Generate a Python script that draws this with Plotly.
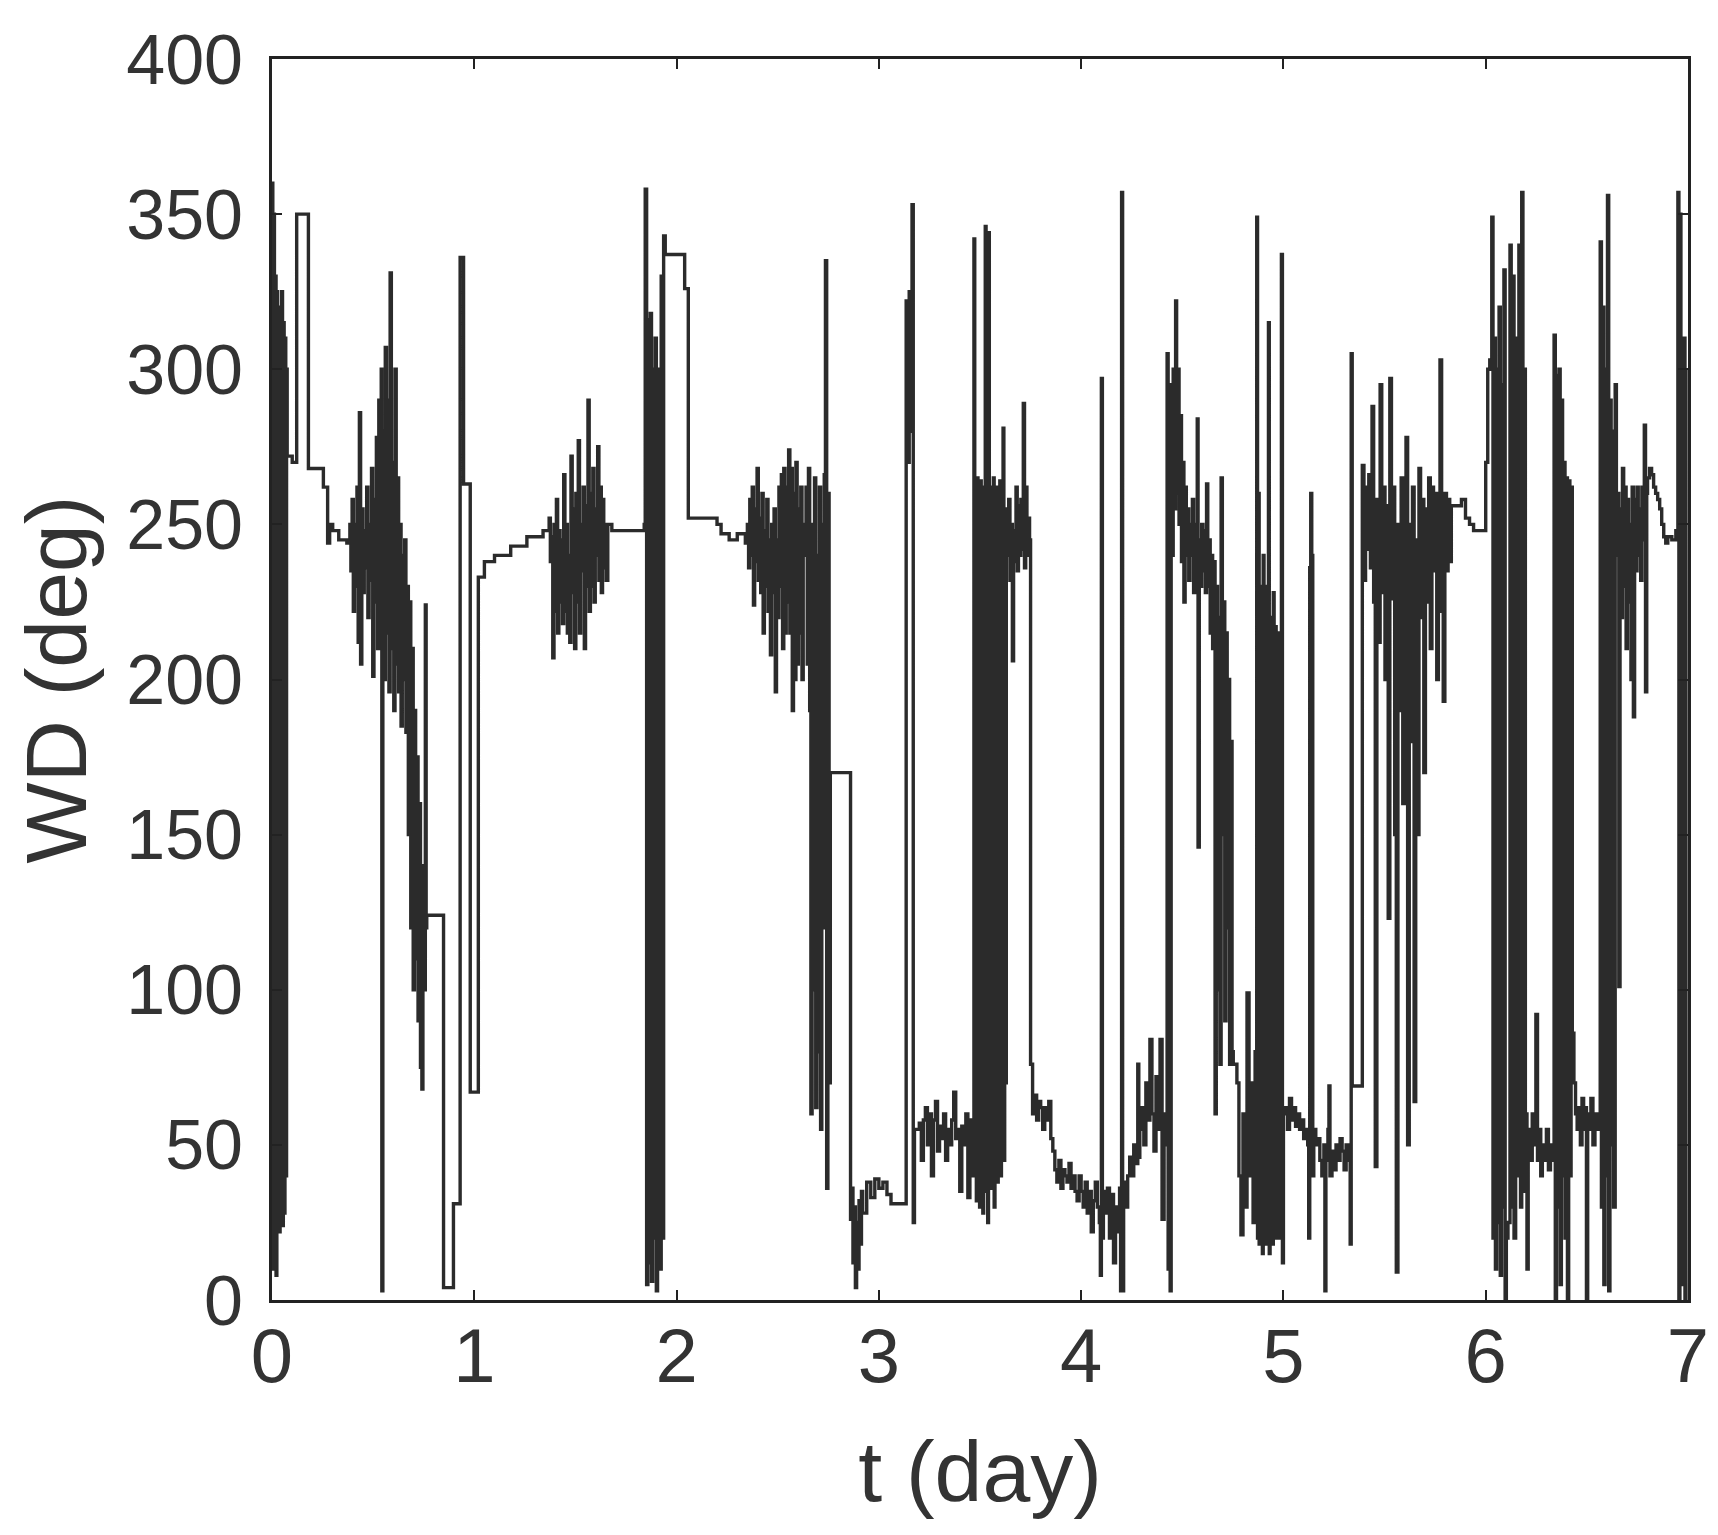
import plotly.graph_objects as go

# time (day) and wind direction (deg)
t_day = [
    0.000, 0.004, 0.008, 0.012, 0.016, 0.020, 0.024, 0.028, 0.032, 0.036, 0.040, 0.044, 0.048, 0.052,
    0.056, 0.060, 0.064, 0.068, 0.072, 0.075, 0.100, 0.122, 0.180, 0.254, 0.275, 0.285, 0.300, 0.330,
    0.370, 0.385,
    0.390, 0.396, 0.402, 0.408, 0.414, 0.420, 0.426, 0.432, 0.438, 0.444, 0.450, 0.456, 0.462, 0.468,
    0.474, 0.480, 0.486, 0.492, 0.498, 0.504, 0.510, 0.516, 0.522, 0.528, 0.534, 0.540, 0.543, 0.548,
    0.554, 0.560, 0.566, 0.572, 0.578, 0.584, 0.590, 0.596, 0.602, 0.608, 0.614, 0.620, 0.626, 0.632,
    0.638, 0.644, 0.650, 0.656, 0.662, 0.668, 0.674, 0.680, 0.686, 0.692, 0.698, 0.704, 0.710, 0.716,
    0.722, 0.728, 0.734, 0.741, 0.746, 0.752, 0.758, 0.762, 0.765, 0.848, 0.897, 0.930, 0.947, 0.980,
    1.020, 1.050, 1.100, 1.180, 1.260, 1.340,
    1.370, 1.376, 1.382, 1.388, 1.394, 1.400, 1.406, 1.412, 1.418, 1.424, 1.430, 1.436, 1.442, 1.448,
    1.454, 1.460, 1.466, 1.472, 1.478, 1.484, 1.490, 1.496, 1.502, 1.508, 1.514, 1.520, 1.526, 1.532,
    1.538, 1.544, 1.550, 1.556, 1.562, 1.568, 1.574, 1.580, 1.586, 1.592, 1.598, 1.604, 1.610, 1.616,
    1.622, 1.628, 1.634, 1.640, 1.646, 1.652, 1.660, 1.680, 1.750,
    1.840, 1.845, 1.852, 1.858, 1.864, 1.870, 1.876, 1.882, 1.888, 1.894, 1.900, 1.906, 1.912, 1.918,
    1.924, 1.930, 1.936, 1.944, 2.040, 2.058, 2.200, 2.220, 2.260, 2.300, 2.340,
    2.350, 2.356, 2.362, 2.368, 2.374, 2.380, 2.386, 2.392, 2.398, 2.404, 2.410, 2.416, 2.422, 2.428,
    2.434, 2.440, 2.446, 2.452, 2.458, 2.464, 2.470, 2.476, 2.482, 2.488, 2.494, 2.500, 2.506, 2.512,
    2.518, 2.524, 2.530, 2.536, 2.542, 2.548, 2.554, 2.560, 2.566, 2.572, 2.578, 2.584, 2.590, 2.596,
    2.602, 2.608, 2.614, 2.620, 2.626, 2.632, 2.640, 2.646, 2.652, 2.658, 2.664, 2.670, 2.676, 2.682,
    2.688, 2.694, 2.700, 2.706, 2.712, 2.718, 2.724, 2.730, 2.736, 2.742, 2.748, 2.754, 2.760, 2.857,
    2.860, 2.866, 2.872, 2.878, 2.884, 2.890, 2.896, 2.902, 2.908, 2.914, 2.920, 2.940, 2.960, 2.980,
    3.000, 3.020, 3.040, 3.060, 3.100, 3.135, 3.142, 3.150, 3.156, 3.164, 3.170, 3.176,
    3.180, 3.200, 3.210, 3.220, 3.230, 3.240, 3.250, 3.260, 3.270, 3.280, 3.290, 3.300, 3.310, 3.320,
    3.330, 3.340, 3.350, 3.360, 3.370, 3.380, 3.390, 3.400, 3.410, 3.420, 3.430, 3.440, 3.450, 3.460,
    3.465,
    3.470, 3.474, 3.478, 3.482, 3.486, 3.490, 3.494, 3.498, 3.502, 3.506, 3.510, 3.514, 3.518, 3.522,
    3.526, 3.530, 3.534, 3.538, 3.542, 3.546, 3.550, 3.554, 3.558, 3.562, 3.566, 3.570, 3.574, 3.578,
    3.582, 3.586, 3.590, 3.594, 3.598, 3.602, 3.606, 3.610, 3.614, 3.618, 3.622, 3.626, 3.630,
    3.636, 3.642, 3.648, 3.654, 3.660, 3.666, 3.672, 3.678, 3.684, 3.690, 3.696, 3.702, 3.708, 3.714,
    3.720, 3.726, 3.732, 3.738, 3.745, 3.750,
    3.755, 3.760, 3.770, 3.780, 3.790, 3.800, 3.810, 3.820, 3.830, 3.840, 3.850, 3.860, 3.870, 3.880,
    3.890, 3.900, 3.910, 3.920, 3.930, 3.940, 3.950, 3.960, 3.970, 3.980, 3.990, 4.000, 4.010, 4.020,
    4.030, 4.040, 4.050, 4.060, 4.070, 4.080, 4.090, 4.095, 4.100, 4.105, 4.110, 4.120, 4.130, 4.140,
    4.150, 4.160, 4.170, 4.180, 4.190, 4.195, 4.200, 4.205, 4.210, 4.220, 4.230, 4.240, 4.250, 4.260,
    4.270, 4.280, 4.285, 4.290, 4.300, 4.310, 4.320, 4.330, 4.340, 4.350, 4.360, 4.370, 4.380, 4.390,
    4.400, 4.410, 4.420,
    4.425, 4.430, 4.435, 4.440, 4.445, 4.450, 4.455, 4.460, 4.467, 4.472, 4.478, 4.484, 4.490, 4.496,
    4.502, 4.508, 4.514, 4.520, 4.526, 4.532, 4.538, 4.544, 4.550, 4.556, 4.562, 4.568, 4.574, 4.578,
    4.584, 4.590, 4.596, 4.602, 4.608, 4.614, 4.620, 4.626, 4.632, 4.638, 4.644, 4.650, 4.656, 4.662,
    4.668, 4.674, 4.680, 4.686, 4.692, 4.698, 4.704, 4.710, 4.716, 4.722, 4.728, 4.734, 4.740, 4.746,
    4.752, 4.760, 4.770, 4.780, 4.790, 4.800, 4.810, 4.820, 4.830, 4.840, 4.850, 4.860,
    4.868, 4.872, 4.876, 4.880, 4.884, 4.888, 4.892, 4.896, 4.900, 4.904, 4.908, 4.912, 4.916, 4.920,
    4.926, 4.930, 4.934, 4.938, 4.942, 4.946, 4.950, 4.954, 4.960, 4.964, 4.970, 4.975, 4.980, 4.985,
    4.990, 4.995,
    5.000, 5.010, 5.020, 5.030, 5.040, 5.050, 5.060, 5.070, 5.080, 5.090, 5.100, 5.110, 5.120, 5.125,
    5.130, 5.135, 5.140, 5.145, 5.150, 5.160, 5.170, 5.180, 5.190, 5.200, 5.205, 5.210, 5.220, 5.225,
    5.230, 5.240, 5.250, 5.260, 5.270, 5.280, 5.290, 5.300, 5.310, 5.320, 5.330, 5.335, 5.340,
    5.390, 5.398, 5.406, 5.414, 5.422, 5.430, 5.438, 5.446, 5.454, 5.462, 5.470, 5.478, 5.486, 5.494,
    5.502, 5.510, 5.518, 5.526, 5.534, 5.542, 5.550, 5.558, 5.566, 5.574, 5.582, 5.590, 5.598, 5.606,
    5.614, 5.622, 5.630, 5.638, 5.646, 5.654, 5.662, 5.670, 5.678, 5.686, 5.694, 5.702, 5.710, 5.718,
    5.726, 5.734, 5.742, 5.750, 5.758, 5.766, 5.774, 5.782, 5.790, 5.798, 5.806, 5.814, 5.822, 5.830,
    5.860, 5.880, 5.900, 5.920, 5.940, 5.980,
    6.000, 6.010, 6.020, 6.030, 6.036, 6.042, 6.048, 6.054, 6.060, 6.066, 6.072, 6.078, 6.084, 6.090,
    6.096, 6.102, 6.110, 6.120, 6.126, 6.132, 6.140, 6.148, 6.156, 6.164, 6.172, 6.178, 6.184, 6.190,
    6.196, 6.204, 6.210, 6.220, 6.230, 6.240, 6.248, 6.256, 6.264, 6.272, 6.280, 6.290, 6.300, 6.310,
    6.320, 6.330,
    6.338, 6.344, 6.350, 6.356, 6.362, 6.368, 6.374, 6.380, 6.386, 6.392, 6.398, 6.404, 6.410, 6.416,
    6.422, 6.428, 6.436, 6.444, 6.452, 6.460, 6.468, 6.476, 6.484, 6.492, 6.498, 6.504, 6.512, 6.520,
    6.530, 6.540, 6.550,
    6.566, 6.572, 6.578, 6.584, 6.590, 6.596, 6.602, 6.608, 6.614, 6.620, 6.626, 6.632,
    6.640, 6.646, 6.652, 6.658, 6.664, 6.670, 6.676, 6.682, 6.688, 6.694, 6.700, 6.706, 6.712, 6.718,
    6.724, 6.730, 6.736, 6.742, 6.748, 6.754, 6.760, 6.766, 6.772, 6.778, 6.784, 6.790, 6.796, 6.800,
    6.810, 6.820, 6.830, 6.840, 6.850, 6.860, 6.870, 6.880, 6.890, 6.900, 6.920, 6.940,
    6.950, 6.955, 6.960, 6.965, 6.970, 6.975, 6.980, 6.985, 6.990,
]

wd_deg = [
    360, 10, 350, 20, 330, 8, 325, 25, 320, 22, 318, 30, 325, 24,
    315, 28, 310, 40, 300, 272, 270, 350, 268, 262, 244, 250, 248, 245,
    244, 250,
    235, 258, 222, 250, 230, 262, 212, 286, 205, 255, 228, 248, 236, 262,
    220, 250, 232, 268, 201, 258, 225, 278, 210, 290, 230, 300, 3, 280,
    200, 307, 215, 290, 196, 331, 210, 270, 190, 300, 205, 265, 196, 250,
    185, 240, 200, 245, 183, 230, 150, 225, 120, 210, 100, 190, 110, 175,
    90, 160, 75, 68, 140, 100, 224, 120, 124, 4, 31, 336, 263, 67,
    233, 238, 240, 243, 246, 248,
    252, 238, 246, 207, 250, 222, 258, 215, 248, 225, 245, 218, 266, 222,
    250, 215, 240, 212, 272, 228, 255, 210, 260, 225, 277, 215, 250, 235,
    262, 210, 256, 230, 290, 222, 260, 230, 268, 225, 255, 240, 275, 232,
    262, 228, 258, 236, 250, 232, 250, 248, 248,
    250, 358, 5, 316, 12, 318, 6, 300, 20, 310, 3, 25, 300, 10,
    330, 20, 343, 337, 326, 252, 250, 247, 245, 247, 244,
    250, 236, 258, 240, 262, 224, 255, 238, 268, 232, 252, 228, 260, 215,
    248, 230, 258, 222, 245, 208, 250, 228, 255, 196, 245, 220, 262, 230,
    266, 210, 268, 215, 262, 225, 274, 215, 268, 190, 260, 200, 270, 205,
    255, 215, 262, 200, 240, 250, 262, 205, 268, 190, 60, 250, 100, 265,
    62, 240, 80, 262, 55, 250, 120, 266, 335, 36, 260, 70, 170, 170,
    26, 36, 12, 30, 4, 25, 10, 32, 18, 35, 28, 38, 33, 39,
    36, 38, 34, 31, 31, 322, 270, 325, 280, 353, 25, 55,
    55, 57, 45, 58, 62, 50, 60, 40, 58, 64, 48, 56, 52, 60,
    45, 55, 50, 58, 67, 52, 55, 35, 56, 50, 60, 33, 58, 40,
    55,
    342, 40, 262, 32, 265, 35, 258, 30, 264, 38, 260, 28, 262, 40,
    346, 35, 265, 25, 344, 40, 262, 36, 258, 42, 265, 30, 260, 45,
    262, 38, 255, 48, 264, 40, 258, 52, 281, 45, 255, 70, 250,
    240, 258, 232, 250, 206, 248, 238, 262, 235, 256, 240, 258, 242, 289,
    236, 262, 240, 252, 245, 76,
    76, 60, 66, 58, 64, 62, 55, 62, 58, 64, 52, 48, 42, 38,
    45, 36, 42, 40, 38, 44, 36, 40, 35, 32, 40, 35, 30, 38,
    28, 35, 22, 32, 38, 30, 25, 8, 297, 20, 35, 28, 36, 20,
    34, 12, 30, 22, 36, 3, 357, 3, 38, 30, 40, 46, 40, 50,
    44, 76, 46, 55, 62, 50, 70, 58, 84, 60, 48, 72, 55, 84,
    26, 60, 50,
    305, 10, 290, 3, 295, 240, 300, 255, 322, 260, 300, 250, 285, 238,
    270, 225, 262, 240, 255, 232, 250, 240, 258, 228, 250, 235, 284, 146,
    245, 230, 250, 235, 248, 228, 263, 230, 245, 215, 240, 210, 238, 60,
    230, 100, 220, 76, 265, 150, 225, 90, 215, 120, 200, 76, 180, 80,
    76, 76, 70, 40, 21, 60, 30, 99, 40, 70, 25, 80,
    349, 20, 260, 18, 230, 25, 217, 15, 240, 22, 200, 18, 230, 30,
    315, 15, 220, 25, 210, 18, 228, 35, 217, 20, 200, 30, 215, 20,
    337, 12,
    60, 62, 55, 65, 58, 62, 56, 60, 55, 58, 52, 55, 50, 20,
    236, 260, 240, 40, 55, 50, 52, 45, 40, 50, 3, 45, 55, 69,
    40, 48, 42, 50, 45, 52, 48, 42, 50, 45, 18, 305, 69,
    269, 232, 262, 242, 266, 236, 288, 225, 43, 258, 212, 295, 228, 262,
    200, 256, 123, 297, 226, 262, 150, 9, 250, 190, 265, 160, 240, 278,
    50, 250, 180, 262, 64, 245, 150, 268, 220, 258, 170, 255, 225, 265,
    210, 262, 235, 260, 200, 258, 303, 222, 193, 260, 235, 258, 238, 256,
    256, 258, 252, 250, 248, 248,
    270, 300, 303, 349, 20, 310, 10, 300, 25, 320, 8, 295, 30, 332,
    0, 20, 25, 340, 30, 330, 20, 310, 40, 340, 30, 357, 35, 300,
    60, 10, 55, 45, 60, 50, 92, 45, 55, 40, 50, 45, 55, 42,
    50, 45,
    311, 0, 298, 30, 300, 5, 290, 40, 270, 20, 265, 0, 264, 40,
    262, 86, 70, 60, 55, 62, 50, 65, 55, 62, 0, 60, 55, 65,
    50, 60, 55,
    341, 30, 320, 5, 300, 40, 356, 3, 290, 50, 280, 30,
    295, 240, 260, 101, 255, 220, 268, 230, 262, 210, 258, 225, 250, 200,
    262, 188, 258, 235, 262, 240, 255, 232, 262, 245, 282, 196, 260, 265,
    268, 266, 262, 260, 258, 255, 250, 246, 244, 246, 245, 248,
    357, 0, 350, 10, 300, 5, 310, 0, 300,
]

x_ticks = [0, 1, 2, 3, 4, 5, 6, 7]
y_ticks = [0, 50, 100, 150, 200, 250, 300, 350, 400]

fig = go.Figure()
fig.add_trace(go.Scatter(x=t_day, y=wd_deg, mode='lines', line=dict(color='#2b2b2b', width=3.4, shape='hv'),
                         showlegend=False, hoverinfo='skip'))

font_main = "Liberation Sans, Arial, Helvetica, sans-serif"
# page body adds 8px, margins account for that
fig.update_layout(
    width=1718, height=1535,
    margin=dict(l=264, r=38, t=41, b=243),
    paper_bgcolor='white', plot_bgcolor='white',
    font=dict(family=font_main, color='#333333', size=70),
)
fig.update_xaxes(range=[0, 7], tickvals=x_ticks, ticks='inside', ticklen=10, tickwidth=2, tickcolor='#222',
                 showline=True, linecolor='#222', linewidth=3, mirror='ticks', showgrid=False, zeroline=False,
                 tickfont=dict(size=76), ticklabelstandoff=-12,
                 title=dict(text='t (day)', font=dict(size=86), standoff=44))
fig.update_yaxes(range=[0, 400], tickvals=y_ticks, ticks='inside', ticklen=10, tickwidth=2, tickcolor='#222',
                 showline=True, linecolor='#222', linewidth=3, mirror='ticks', showgrid=False, zeroline=False,
                 tickfont=dict(size=70), ticklabelstandoff=12,
                 title=dict(text='WD (deg)', font=dict(size=86), standoff=18))

fig.write_html("out.html")
